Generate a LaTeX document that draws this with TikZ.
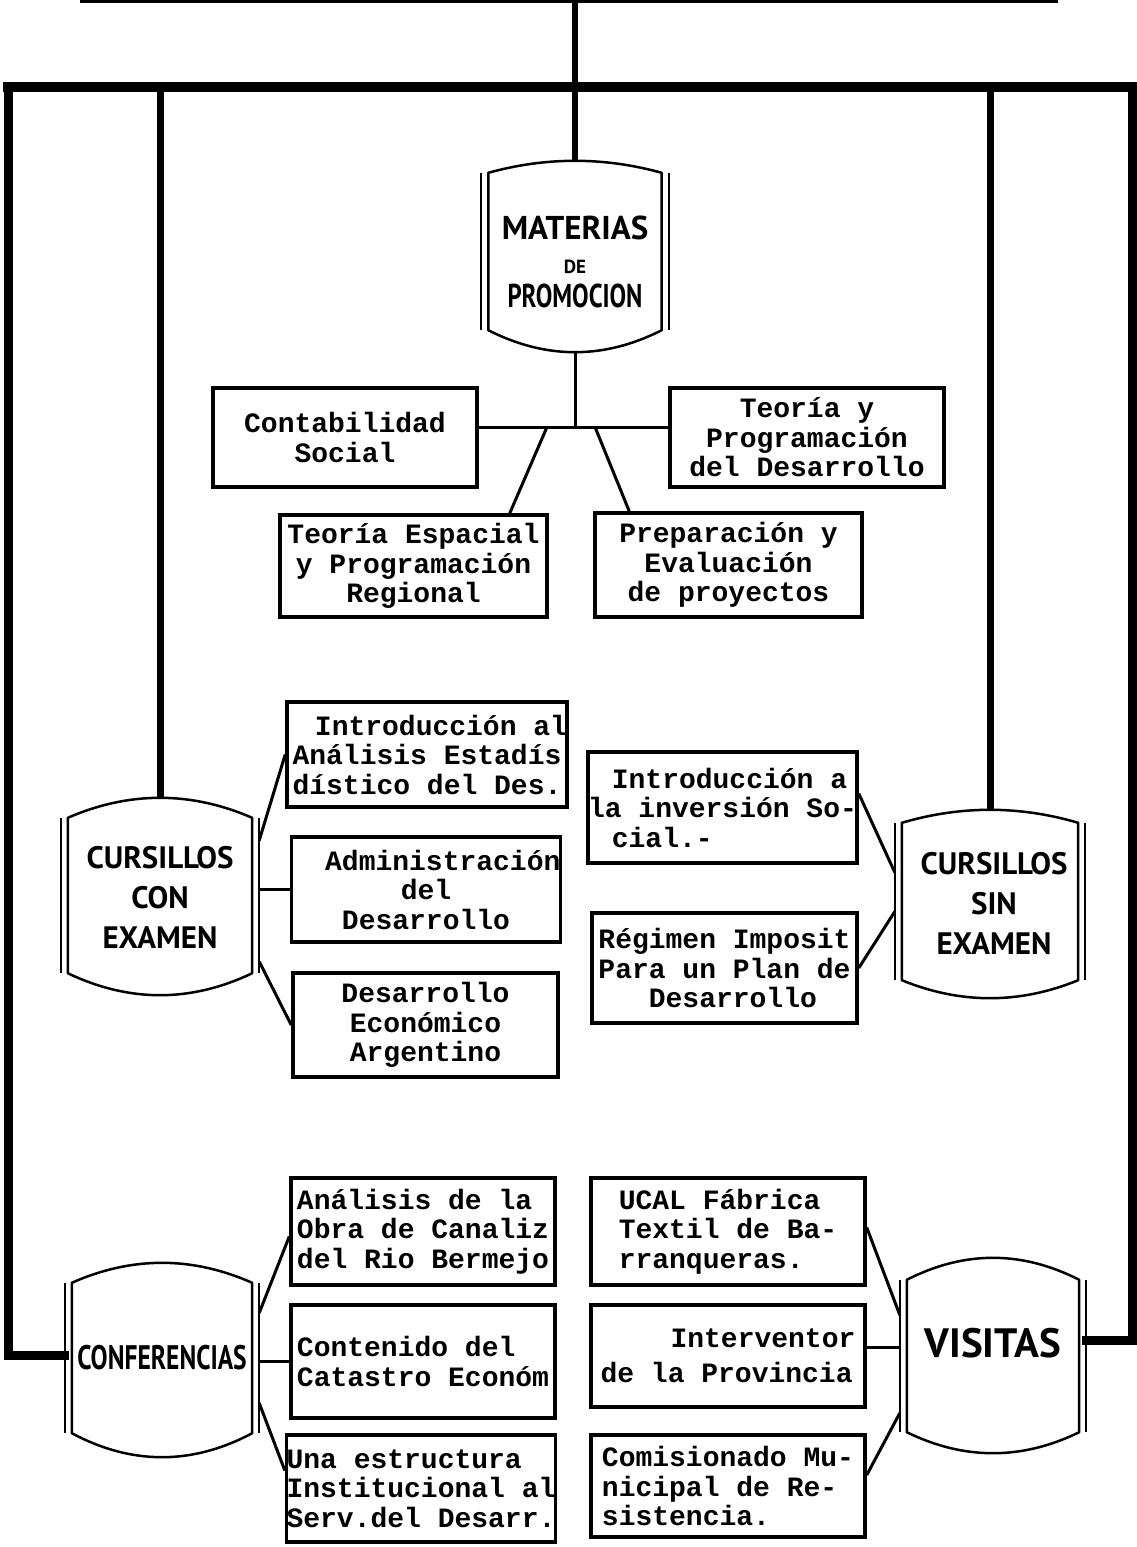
\documentclass[tikz,border=0pt]{standalone}
\usepackage{fontspec}
\newfontfamily\maquina{Liberation Mono}
\newfontfamily\rotulo{PT Sans}
\newfontfamily\rotuloest[FakeStretch=0.75]{PT Sans}
\usetikzlibrary{calc}

\tikzset{
  caja/.style={draw, line width=3.5pt, inner sep=0pt, align=center,
    font=\maquina\bfseries\fontsize{28}{29.5}\selectfont},
  capsula/.style={inner sep=0pt},
  letrero/.style={inner sep=0pt, align=center,
    font=\rotulo\bfseries\fontsize{31}{40}\selectfont},
  enlace/.style={line width=3pt},
  barra/.style={line width=10pt, line cap=rect},
}

% cuerpo de la capsula: nodo, comba arriba, comba abajo
\newcommand\cuerpo[3]{%
  \draw[line width=2.5pt, line join=round] (#1.north west)
    .. controls ($(#1.north west)!.333!(#1.north east)+(0,-4*#2/3)$)
       and ($(#1.north west)!.667!(#1.north east)+(0,-4*#2/3)$) .. (#1.north east)
    -- (#1.south east)
    .. controls ($(#1.south west)!.667!(#1.south east)+(0,4*#3/3)$)
       and ($(#1.south west)!.333!(#1.south east)+(0,4*#3/3)$) .. (#1.south west) -- cycle;
  \draw[line width=2pt] ([xshift=-7pt]#1.north west) -- ([xshift=-7pt]#1.south west)
    ([xshift=7pt]#1.north east) -- ([xshift=7pt]#1.south east);
  \coordinate (#1-top) at ($(#1.north)+(0,-#2)$);
  \coordinate (#1-bot) at ($(#1.south)+(0,#3)$);
}

\begin{document}
\begin{tikzpicture}[x=1pt,y=-1pt]
  \useasboundingbox (0,0) rectangle (1136,1547);

  % capsulas
  \node[capsula, minimum width=173pt, minimum height=157pt] (materias) at (575,251.5) {};
  \node[capsula, minimum width=184pt, minimum height=155pt] (con) at (160,895.5) {};
  \node[capsula, minimum width=176pt, minimum height=157pt] (sin) at (990,901.5) {};
  \node[capsula, minimum width=180pt, minimum height=150pt] (conf) at (162,1358) {};
  \node[capsula, minimum width=172pt, minimum height=152pt] (vis) at (993,1356) {};
  \cuerpo{materias}{12}{22}
  \cuerpo{con}{20}{22}
  \cuerpo{sin}{13}{18}
  \cuerpo{conf}{20}{24}
  \cuerpo{vis}{22}{21}

  \node[letrero, font=\rotulo\bfseries\fontsize{33}{34}\selectfont] (materias-txt)
    at ([yshift=-10pt]materias.center)
    {MATERIAS\\{\fontsize{19}{20}\selectfont DE}\\{\rotuloest PROMOCION}};
  \node[letrero] (con-txt) at ([yshift=-2pt]con.center) {CURSILLOS\\CON\\EXAMEN};
  \node[letrero] (sin-txt) at ([yshift=-2pt,xshift=4pt]sin.center) {CURSILLOS\\SIN\\EXAMEN};
  \node[letrero, font=\rotuloest\bfseries\fontsize{34}{40}\selectfont] (conf-txt)
    at (conf.center) {CONFERENCIAS};
  \node[letrero, font=\rotulo\bfseries\fontsize{41}{44}\selectfont] (vis-txt)
    at ([yshift=13pt]vis.center) {VISITAS};

  % materias de promocion
  \node[caja, minimum width=264pt, minimum height=99pt] (conta) at (345,437.5) {Contabilidad\\Social};
  \node[caja, minimum width=274pt, minimum height=99pt] (teoprog) at (807,437.5) {Teoría y\\Programación\\del Desarrollo};
  \node[caja, minimum width=267pt, minimum height=102pt] (espacial) at (413.5,566) {Teoría Espacial\\y Programación\\Regional};
  \node[caja, minimum width=267pt, minimum height=104pt] (proyectos) at (728.5,565) {Preparación y\\Evaluación\\de proyectos};

  % cursillos con examen
  \node[caja, minimum width=260pt, minimum height=105pt] (con1) at (427,754.5) {\hspace*{1em}Introducción al\\Análisis Estadís\\dístico del Des.};
  \node[caja, minimum width=258pt, minimum height=105pt] (con2) at (426,889.5) {\hspace*{1.2em}Administración\\del\\Desarrollo};
  \node[caja, minimum width=265pt, minimum height=104pt] (con3) at (425.5,1025) {Desarrollo\\Económico\\Argentino};

  % cursillos sin examen
  \node[caja, align=left, minimum width=269pt, minimum height=111pt] (sin1) at (722.5,807.5) {\hspace*{0.85em}Introducción a\\la inversión So-\\\hspace*{0.85em}cial.-};
  \node[caja, align=left, minimum width=265pt, minimum height=110pt] (sin2) at (724.5,968) {Régimen Imposit\\Para un Plan de\\\hspace*{1.8em}Desarrollo};

  % conferencias
  \node[caja, align=left, minimum width=264pt, minimum height=107pt] (conf1) at (423,1231.5) {Análisis de la\\Obra de Canaliz\\del Rio Bermejo};
  \node[caja, align=left, minimum width=264pt, minimum height=113pt] (conf2) at (423,1361.5) {Contenido del\\Catastro Económ};
  \node[caja, align=left, minimum width=268pt, minimum height=107pt] (conf3) at (421,1488.5) {Una estructura\\Institucional al\\Serv.del Desarr.};

  % visitas
  \node[caja, align=left, minimum width=274pt, minimum height=107pt] (vis1) at (728,1231.5) {UCAL Fábrica\\Textil de Ba-\\rranqueras.};
  \node[caja, align=left, minimum width=274pt, minimum height=102pt] (vis2) at (728,1356) {\hspace*{2.5em}Interventor\\[6pt]de la Provincia};
  \node[caja, align=left, minimum width=274pt, minimum height=102pt] (vis3) at (728,1486) {Comisionado Mu-\\nicipal de Re-\\sistencia.};

  % enlaces de materias
  \coordinate (nudo) at (575,427);
  \draw[enlace] (materias-bot) -- (nudo);
  \draw[enlace] (conta.east |- nudo) -- (teoprog.west |- nudo);
  \draw[enlace] ([xshift=-28pt]nudo) -- ([xshift=-39pt]espacial.north east);
  \draw[enlace] ([xshift=20pt]nudo) -- ([xshift=36pt]proyectos.north west);

  % enlaces de cursillos
  \draw[enlace] ($(con.east)+(7,-55)$) -- (con1.west);
  \draw[enlace] ($(con.east |- con2.west)+(7,0)$) -- (con2.west);
  \draw[enlace] ($(con.east)+(7,66)$) -- (con3.west);
  \draw[enlace] ($(sin1.east)+(0,-14)$) -- ($(sin.west)+(-7,-29)$);
  \draw[enlace] (sin2.east) -- ($(sin.west)+(-7,10)$);

  % enlaces de conferencias y visitas
  \draw[enlace] ($(conf.east)+(7,-45)$) -- ($(conf1.west)+(0,5)$);
  \draw[enlace] ($(conf.east |- conf2.west)+(7,0)$) -- (conf2.west);
  \draw[enlace] ($(conf.east)+(7,45)$) -- ($(conf3.west)+(0,-18)$);
  \draw[enlace] ($(vis1.east)+(0,-4)$) -- ($(vis.west)+(-7,-41)$);
  \draw[enlace] ($(vis2.east)+(0,-9)$) -- ($(vis.west)+(-7,-9)$);
  \draw[enlace] ($(vis3.east)+(0,-11)$) -- ($(vis.west)+(-7,57)$);

  % troncal
  \coordinate (tope) at (575,0);
  \coordinate (izq) at (8,87);
  \coordinate (der) at (1132,87);
  \draw[line width=3.5pt] (80,1.5) -- (1058,1.5);
  \draw[line width=6pt] (tope) -- (materias-top);
  \draw[barra] (izq) -- (der);
  \draw[line width=7pt] (con-top |- izq) -- (con-top);
  \draw[line width=7pt] (sin-top |- izq) -- (sin-top);
  \draw[line width=9pt, line cap=rect] (izq) |- ($(conf.west)+(-7,-3)$);
  \draw[line width=9pt, line cap=rect] (der) |- ($(vis.east)+(7,-16)$);
\end{tikzpicture}
\end{document}
